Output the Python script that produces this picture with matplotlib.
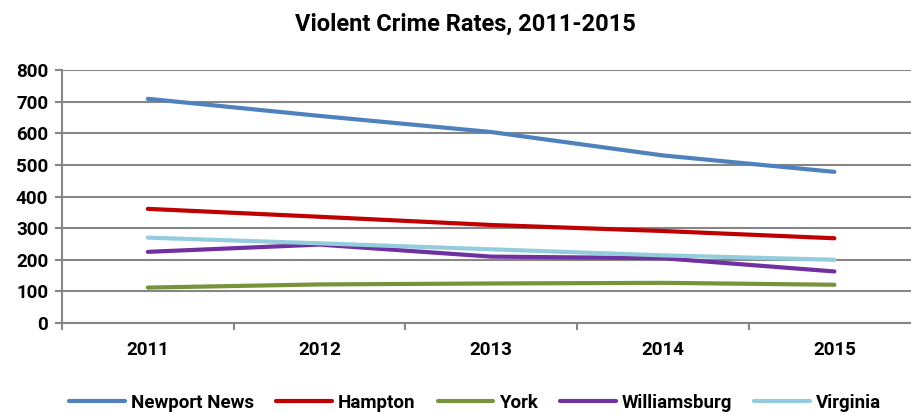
import matplotlib.pyplot as plt
import numpy as np

plt.rcParams['font.family'] = ['Roboto', 'DejaVu Sans']
plt.rcParams['font.weight'] = 'bold'

years = ['2011', '2012', '2013', '2014', '2015']
newport_news = [709, 655, 604, 530, 478]
hampton = [361, 336, 310, 291, 268]
york = [112, 122, 125, 127, 121]
williamsburg = [225, 248, 210, 205, 163]
virginia = [270, 252, 233, 214, 200]

series = [
    ('Newport News', newport_news, '#4F81BD'),
    ('Hampton', hampton, '#C00000'),
    ('York', york, '#77933C'),
    ('Williamsburg', williamsburg, '#7030A0'),
    ('Virginia', virginia, '#93CDDD'),
]

GRID = '#868686'

fig = plt.figure(figsize=(9.12, 4.12), dpi=100)
ax = fig.add_axes([0.068, 0.216, 0.941, 0.614])

x = np.arange(len(years))
for name, vals, color in series:
    ax.plot(x, vals, color=color, lw=3, solid_capstyle='round', label=name, zorder=3)

ax.set_ylim(0, 800)
ax.set_yticks(range(0, 801, 100))
ax.set_xlim(-0.5, len(years) - 0.5)
ax.set_xticks(x)
ax.set_xticklabels(years)
ax.set_xticks(np.arange(-0.5, len(years), 1.0), minor=True)

ax.yaxis.grid(True, color=GRID, lw=1.5)
ax.set_axisbelow(True)

for side in ['top', 'right']:
    ax.spines[side].set_visible(False)
for side in ['left', 'bottom']:
    ax.spines[side].set_color(GRID)
    ax.spines[side].set_linewidth(1.5)

ax.tick_params(axis='y', length=5, width=1.5, color=GRID, labelsize=13.5, pad=5)
ax.tick_params(axis='x', which='major', length=0, labelsize=13.5, pad=13)
ax.tick_params(axis='x', which='minor', length=5, width=1.5, color=GRID)

fig.suptitle('Violent Crime Rates, 2011-2015', x=0.51, y=0.968, fontsize=17, fontweight='bold')

fig.legend(loc='lower center', bbox_to_anchor=(0.521, -0.04), ncol=5, frameon=False,
           fontsize=13.5, handlelength=2.95, handletextpad=0.32, columnspacing=1.2)

fig.savefig('out.png', dpi=100)
